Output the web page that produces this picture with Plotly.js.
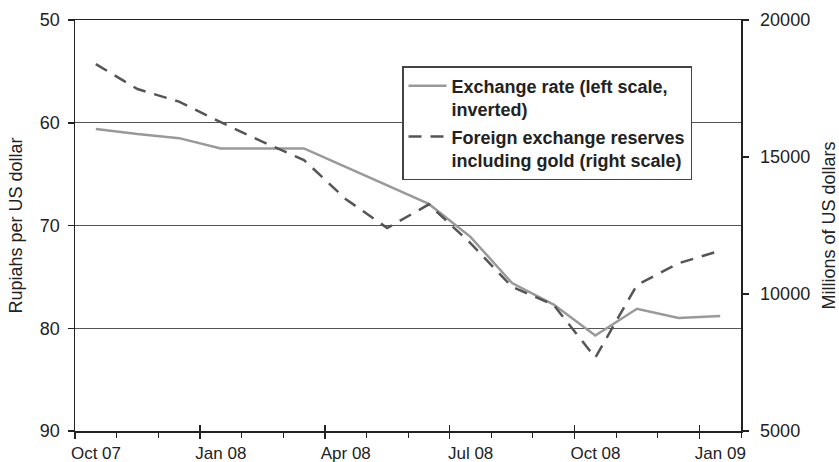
<!DOCTYPE html>
<html><head><meta charset="utf-8">
<script src="https://cdn.plot.ly/plotly-3.0.1.min.js"></script>
<style>html,body{margin:0;padding:0;background:#fff}#chart{width:839px;height:462px}</style>
</head><body><div id="chart"></div>
<script>
// Month index: 0 = start of Oct 07; data points at mid-month
const months = [0.5,1.5,2.5,3.5,4.5,5.5,6.5,7.5,8.5,9.5,10.5,11.5,12.5,13.5,14.5,15.5];
const monthLabels = ['Oct 07','Nov 07','Dec 07','Jan 08','Feb 08','Mar 08','Apr 08','May 08','Jun 08','Jul 08','Aug 08','Sep 08','Oct 08','Nov 08','Dec 08','Jan 09'];
const exchangeRate = [60.6,61.1,61.5,62.5,62.5,62.5,64.3,66.1,67.9,71.1,75.6,77.7,80.7,78.1,79.0,78.8];
const reserves = [18390,17480,17020,16270,15560,14890,13470,12410,13270,11860,10260,9600,7680,10330,11120,11580];
const xTickVals = [0,3,6,9,12,15];
const xTickText = ['Oct 07','Jan 08','Apr 08','Jul 08','Oct 08','Jan 09'];
const leftTicks = [50,60,70,80,90];
const rightTicks = [5000,10000,15000,20000];
const rightTickText = ['5000','10000','15000','20000'];

const FAM = '"Liberation Sans", Arial, Helvetica, sans-serif';
const font = {family:FAM, size:18, color:'#222'};
const xfont = {family:FAM, size:17, color:'#222'};
const traces = [
  {x:months, y:exchangeRate, text:monthLabels, type:'scatter', mode:'lines', name:'Exchange rate (left scale,<br>inverted)',
   legendgroup:'a', line:{color:'#999999', width:2.5}, yaxis:'y'},
  {x:months, y:reserves, text:monthLabels, type:'scatter', mode:'lines', name:'Foreign exchange reserves<br>including gold (right scale)',
   legendgroup:'b', line:{color:'#555555', width:2.5, dash:'13px,9px'}, yaxis:'y2'}
];
const layout = {
  width:839, height:462,
  margin:{l:75, r:98, t:20, b:31},
  paper_bgcolor:'#fff', plot_bgcolor:'#fff',
  font:font,
  showlegend:true,
  legend:{x:0.491, y:0.888, xanchor:'left', yanchor:'top', bgcolor:'#fff', bordercolor:'#444', borderwidth:1.5,
    valign:'top', traceorder:'grouped', tracegroupgap:1, itemwidth:38,
    font:{family:FAM, size:18, color:'#222', weight:'bold'}},
  xaxis:{range:[0,16], tickvals:xTickVals, ticktext:xTickText, showgrid:false, zeroline:false,
    showline:true, linecolor:'#222', linewidth:1.5, mirror:true, ticks:'outside', ticklen:6, tickwidth:1.5, tickcolor:'#222',
    ticklabelstandoff:0, ticklabelshift:21,
    minor:{dtick:1, tick0:0, ticks:'outside', ticklen:5, tickcolor:'#222', tickwidth:1, showgrid:false},
    tickfont:xfont, fixedrange:true},
  xaxis2:{range:[0,16], overlaying:'x', anchor:'y', side:'bottom', tickvals:xTickVals, ticktext:['','','','','',''],
    showgrid:false, zeroline:false, showline:false, ticks:'inside', ticklen:6, tickwidth:1.5, tickcolor:'#222'},
  yaxis:{range:[90,50], tickvals:leftTicks, showgrid:true, gridcolor:'#555', gridwidth:1.2, zeroline:false,
    showline:true, linecolor:'#222', linewidth:1.5, ticks:'outside', ticklen:6, tickcolor:'#222', tickwidth:1.5,
    ticklabelstandoff:4,
    tickfont:font, title:{text:'Rupiahs per US dollar', font:font, standoff:12}},
  yaxis2:{range:[5000,20000], tickvals:rightTicks, ticktext:rightTickText, overlaying:'y', side:'right', showgrid:false, zeroline:false,
    showline:true, linecolor:'#222', linewidth:1.5, ticks:'outside', ticklen:6, tickcolor:'#222', tickwidth:1.5,
    ticklabelstandoff:8,
    tickfont:font, title:{text:'Millions of US dollars', font:font, standoff:17}}
};
// dummy trace to activate xaxis2 ticks
traces.push({x:[0], y:[50], xaxis:'x2', yaxis:'y', mode:'none', type:'scatter', showlegend:false, hoverinfo:'skip'});
Plotly.newPlot('chart', traces, layout, {displayModeBar:false, staticPlot:true});
</script></body></html>
